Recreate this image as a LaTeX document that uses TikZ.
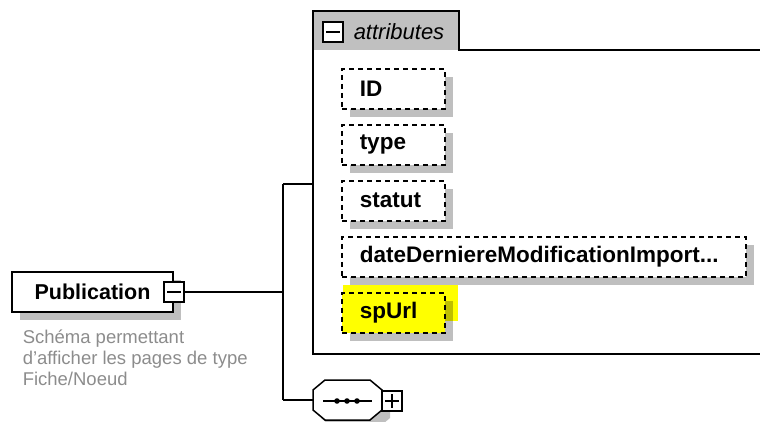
\documentclass[tikz,border=0pt]{standalone}
\usepackage{fontspec}
\setmainfont{Liberation Sans}
\usetikzlibrary{positioning,shadows}
\definecolor{tabgray}{RGB}{192,192,192}
\definecolor{descgray}{RGB}{140,140,140}
\definecolor{hiyellow}{RGB}{255,255,0}
\begin{document}
\begin{tikzpicture}[x=1pt,y=-1pt,line width=1.5pt,
  boxshadow/.style={drop shadow={shadow xshift=8pt,shadow yshift=-8pt,fill=black,opacity=0.25}},
  elembox/.style={draw,fill=white,boxshadow,minimum width=161pt,minimum height=40pt,inner sep=0pt,
    font=\fontsize{21.5}{25}\selectfont\bfseries},
  attrbox/.style={draw,dash pattern=on 5pt off 4pt,fill=white,boxshadow,anchor=north west,
    minimum height=40pt,inner xsep=18pt,inner ysep=0pt,text width=#1,align=left,
    font=\fontsize{22.5}{26}\selectfont\bfseries},
  togbox/.style={draw,fill=white,minimum size=20pt,inner sep=0pt},
  togline/.style={line width=1.2pt},
  desc/.style={anchor=north west,inner sep=0pt,align=left,text=descgray,
    font=\fontsize{18.5}{21}\selectfont}]
\useasboundingbox (0,0) rectangle (760,421);
%%% The element and its description
\node[elembox] (pub) at (92.5,292) {Publication};
\node[togbox] (pubtog) at (pub.east) {};
\draw[togline] ([xshift=4pt]pubtog.west) -- ([xshift=-4pt]pubtog.east);
\node[desc] (pubdesc) at (22,329) {Schéma permettant\\d'afficher les pages de type\\Fiche/Noeud};
%%% The attributes group
\fill[tabgray] (313,11) rectangle (459,50);
\draw (765,354) -- (313,354) -- (313,11) -- (459,11) -- (459,50) -- (765,50);
\coordinate (grpwest) at (313,184);
\node[togbox] (grptog) at (333,32) {};
\draw[togline] ([xshift=4pt]grptog.west) -- ([xshift=-4pt]grptog.east);
\node[anchor=west,inner sep=0pt,font=\fontsize{22}{26}\selectfont\itshape] (grplabel) at (353,32) {attributes};
\node[attrbox=67pt] (aid) at (341,68) {ID};
\node[attrbox=67pt] (atype) at (341,124) {type};
\node[attrbox=67pt] (astatut) at (341,180) {statut};
\node[attrbox=368pt] (adate) at (341,236) {dateDerniereModificationImport...};
\fill[hiyellow] (343,285) rectangle (458,321);
\node[attrbox=67pt,fill=hiyellow] (aurl) at (341,292) {spUrl};
%%% The sequence
\coordinate (seq) at (313,400);
\fill[black,opacity=0.25,xshift=8pt,yshift=-8pt] (313,390) -- (325,380) -- (370,380) -- (382,390)
  -- (382,410) -- (370,420) -- (325,420) -- (313,410) -- cycle;
\filldraw[fill=white] (313,390) -- (325,380) -- (370,380) -- (382,390)
  -- (382,410) -- (370,420) -- (325,420) -- (313,410) -- cycle;
\draw (323,401) -- (372,401);
\foreach \d in {337,347,357} \fill (\d,401) circle (2.8pt);
\node[togbox] (seqtog) at (392,401) {};
\draw[togline] ([xshift=4pt]seqtog.west) -- ([xshift=-4pt]seqtog.east);
\draw[togline] ([yshift=4pt]seqtog.south) -- ([yshift=-4pt]seqtog.north);
%%% The connectors
\coordinate (fork) at (283,292);
\coordinate (forktop) at (283,184);
\coordinate (forkbot) at (283,400);
\draw (pubtog.east) -- (fork);
\draw (forktop) -- (forkbot);
\draw (forktop) -- (grpwest);
\draw (forkbot) -- (seq);
\end{tikzpicture}
\end{document}
